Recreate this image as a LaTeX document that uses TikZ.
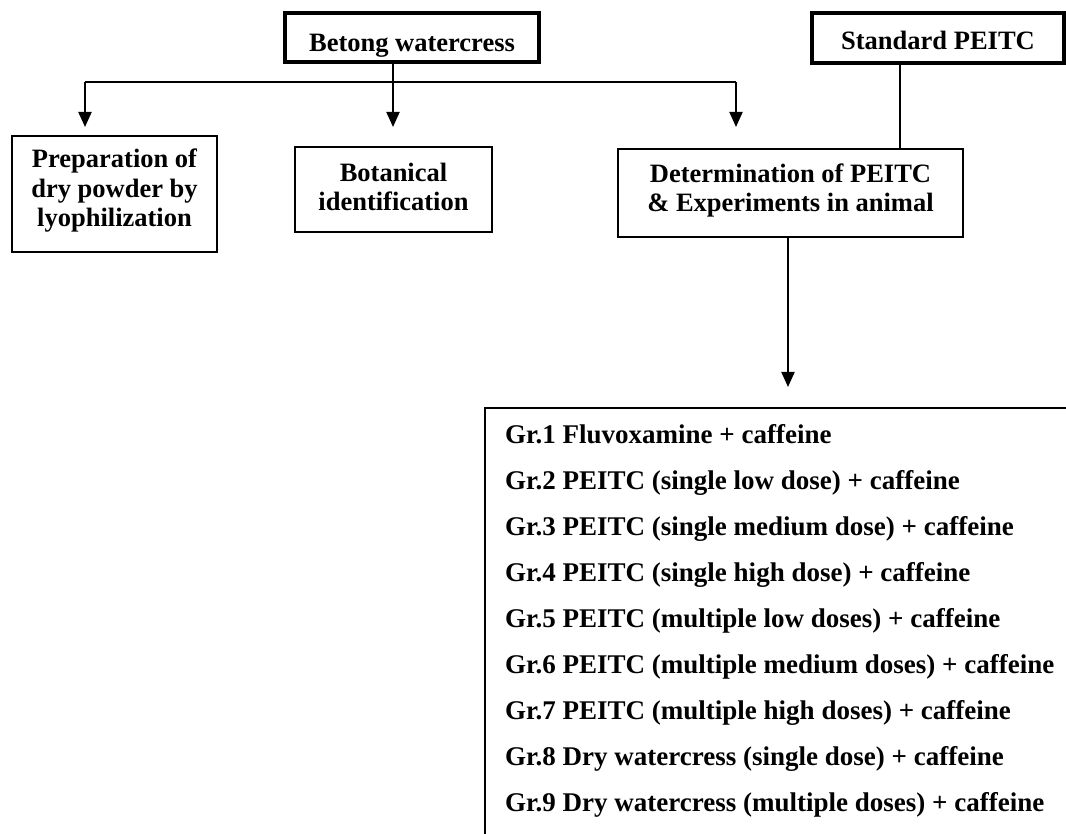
\documentclass[tikz,border=0pt]{standalone}
\usepackage{fontspec}
\setmainfont{Liberation Serif}
\usetikzlibrary{arrows.meta}
\begin{document}
\begin{tikzpicture}[x=1pt,y=-1pt,
  every node/.style={font=\fontsize{26.5}{29.5}\selectfont\bfseries, inner sep=0pt},
  thickbox/.style={draw, line width=3.6pt},
  box/.style={draw, line width=2pt, align=center},
  conn/.style={line width=2pt},
  arr/.style={line width=2pt, -{Triangle[length=15pt,width=13pt]}},
  grp/.style={anchor=base west, font=\fontsize{27}{30}\selectfont\bfseries}
]
\useasboundingbox (0,0) rectangle (1066,834);
\node[thickbox, minimum width=254, minimum height=49, text height=29pt, text depth=0pt] (bw) at (412,37.5) {Betong watercress};
\node[thickbox, minimum width=252, minimum height=50, text height=24pt, text depth=0pt] (sp) at (938,38) {Standard PEITC};
\node[box, minimum width=205, minimum height=116, text height=66pt, text depth=0pt] (prep) at (114.5,194) {Preparation of\\dry powder by\\lyophilization};
\node[box, minimum width=197, minimum height=85, text height=43pt, text depth=0pt] (bot) at (393.5,189.5) {Botanical\\identification};
\node[box, minimum width=345, minimum height=88, text height=38pt, text depth=0pt] (det) at (790.5,193) {Determination of PEITC\\\& Experiments in animal};
\node[draw, line width=2pt, anchor=north west, minimum width=620, minimum height=460] (groups) at (484,407) {};
\node[grp] (g1) at (505,443) {Gr.1 Fluvoxamine + caffeine};
\node[grp] (g2) at (505,489) {Gr.2 PEITC (single low dose) + caffeine};
\node[grp] (g3) at (505,535) {Gr.3 PEITC (single medium dose) + caffeine};
\node[grp] (g4) at (505,581) {Gr.4 PEITC (single high dose) + caffeine};
\node[grp] (g5) at (505,627) {Gr.5 PEITC (multiple low doses) + caffeine};
\node[grp] (g6) at (505,673) {Gr.6 PEITC (multiple medium doses) + caffeine};
\node[grp] (g7) at (505,719) {Gr.7 PEITC (multiple high doses) + caffeine};
\node[grp] (g8) at (505,765) {Gr.8 Dry watercress (single dose) + caffeine};
\node[grp] (g9) at (505,811) {Gr.9 Dry watercress (multiple doses) + caffeine};
\coordinate (bl) at (85,82.5);
\coordinate (bm) at (393,82.5);
\coordinate (br) at (736,82.5);
\coordinate (sx) at (900,0);
\coordinate (dx) at (788,0);
\draw[conn] (bl) -- (br);
\draw[conn] (bw.south -| bm) -- (bm);
\draw[arr, shorten >=8pt] (bl) -- (bl |- prep.north);
\draw[arr, shorten >=19pt] (bm) -- (bm |- bot.north);
\draw[arr, shorten >=21pt] (br) -- (br |- det.north);
\draw[conn] (sp.south -| sx) -- (det.north -| sx);
\draw[arr, shorten >=20pt] (det.south -| dx) -- (groups.north -| dx);
\end{tikzpicture}
\end{document}
